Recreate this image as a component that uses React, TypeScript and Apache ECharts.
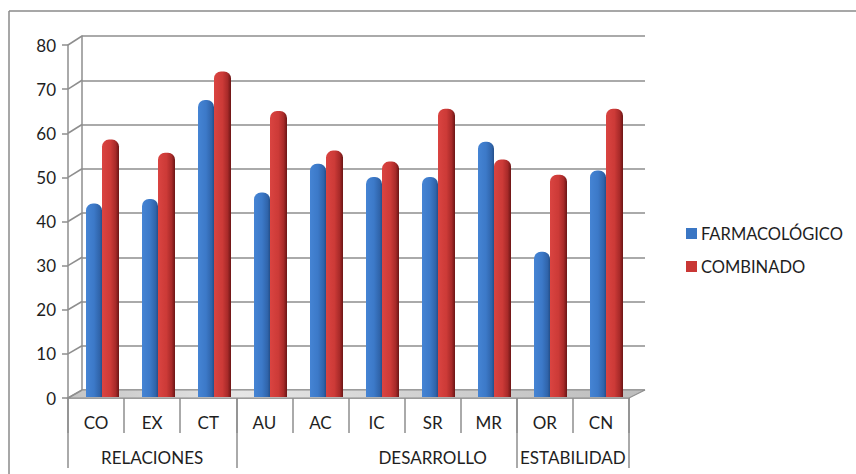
import React, { useEffect, useRef } from "react";
import * as echarts from "echarts";

const categories = ["CO", "EX", "CT", "AU", "AC", "IC", "SR", "MR", "OR", "CN"];
const groups = ["RELACIONES", "DESARROLLO", "ESTABILIDAD"];
const groupBounds = [0, 3, 8, 10];
const groupCenters = [1.5, 6.5, 9];
const farmacologico = [44, 45, 67.5, 46.5, 53, 50, 50, 58, 33, 51.5];
const combinado = [58.5, 55.5, 74, 65, 56, 53.5, 65.5, 54, 50.5, 65.5];
const yTicks = [0, 10, 20, 30, 40, 50, 60, 70, 80];

const FONT = "Lato, 'Open Sans', sans-serif";
const GRID_COLOR = "#8e8e8e";
const TEXT = "#1e1e1e";

export default function App() {
  const ref = useRef<HTMLDivElement>(null);
  useEffect(() => {
    document.body.style.margin = "0";
    const chart = echarts.init(ref.current!, null, { renderer: "svg" });
    const blue = new echarts.graphic.LinearGradient(0, 0, 1, 0, [
      { offset: 0, color: "#4584d4" },
      { offset: 0.5, color: "#3c79c8" },
      { offset: 0.85, color: "#3064aa" },
      { offset: 1, color: "#244f8a" },
    ]);
    const red = new echarts.graphic.LinearGradient(0, 0, 1, 0, [
      { offset: 0, color: "#da4441" },
      { offset: 0.5, color: "#cc3a37" },
      { offset: 0.8, color: "#a82a29" },
      { offset: 1, color: "#6b1515" },
    ]);
    const option: any = {
      animation: false,
      textStyle: { fontFamily: FONT },
      grid: [
        { left: 68, right: 227, top: 45, bottom: 76, outerBoundsMode: "none", containLabel: false },
        { left: 82, right: 211, top: 36, bottom: 84, outerBoundsMode: "none", containLabel: false },
        { left: 74.5, right: 221.5, top: 45, bottom: 77, outerBoundsMode: "none", containLabel: false },
      ],
      legend: {
        orient: "vertical",
        left: 681,
        top: 220,
        itemGap: 16,
        itemWidth: 11,
        itemHeight: 11,
        itemStyle: { borderWidth: 0 },
        icon: "rect",
        textStyle: { fontSize: 16.5, color: TEXT, fontFamily: FONT, padding: [0, 0, 0, -1] },
        data: [
          { name: "FARMACOLÓGICO", itemStyle: { color: "#3a76c4" } },
          { name: "COMBINADO", itemStyle: { color: "#c93735" } },
        ],
      },
      xAxis: [
        {
          type: "category",
          gridIndex: 0,
          position: "bottom",
          data: categories,
          boundaryGap: true,
          axisLine: { show: true, lineStyle: { color: GRID_COLOR, width: 1.5 } },
          axisTick: { show: true, interval: 0, length: 35, lineStyle: { color: GRID_COLOR, width: 1.5 } },
          axisLabel: { interval: 0, margin: 16, fontSize: 17, color: TEXT },
          splitLine: { show: false },
        },
        {
          type: "value",
          gridIndex: 0,
          position: "bottom",
          min: 0,
          max: 10,
          axisLine: { show: false },
          axisTick: {
            show: true,
            customValues: groupBounds,
            length: 70,
            lineStyle: { color: GRID_COLOR, width: 1.5 },
          },
          axisLabel: {
            show: true,
            customValues: groupCenters,
            margin: 51,
            fontSize: 17,
            color: TEXT,
            formatter: (v: number) => groups[groupCenters.indexOf(v)] ?? "",
          },
          splitLine: { show: false },
        },
        {
          type: "value",
          gridIndex: 1,
          min: 0,
          max: 10,
          show: false,
        },
        {
          type: "category",
          gridIndex: 2,
          data: categories,
          show: false,
        },
      ],
      yAxis: [
        {
          type: "value",
          gridIndex: 0,
          min: 0,
          max: 80,
          interval: 10,
          axisLine: { show: true, lineStyle: { color: GRID_COLOR, width: 1.5 } },
          axisTick: { show: true, length: 6, lineStyle: { color: GRID_COLOR, width: 1.5 } },
          axisLabel: { margin: 12, fontSize: 17, color: TEXT },
          splitLine: { show: false },
        },
        {
          type: "value",
          gridIndex: 1,
          min: 0,
          max: 80,
          interval: 10,
          axisLine: { show: true, lineStyle: { color: GRID_COLOR, width: 1.5 } },
          axisTick: { show: false },
          axisLabel: { show: false },
          splitLine: { show: true, lineStyle: { color: GRID_COLOR, width: 1.5 } },
        },
        {
          type: "value",
          gridIndex: 2,
          min: 0,
          max: 80,
          show: false,
        },
      ],
      series: [
        {
          name: "FARMACOLÓGICO",
          type: "bar",
          xAxisIndex: 3,
          yAxisIndex: 2,
          data: farmacologico,
          barWidth: 16,
          barGap: "0%",
          itemStyle: { color: blue, borderRadius: [7, 7, 0, 0] },
          z: 3,
        },
        {
          name: "COMBINADO",
          type: "bar",
          xAxisIndex: 3,
          yAxisIndex: 2,
          data: combinado,
          barWidth: 17,
          barGap: "0%",
          itemStyle: { color: red, borderRadius: [7, 7, 0, 0] },
          z: 4,
        },
      ],
    };
    chart.setOption(option);

    const fx0 = chart.convertToPixel({ xAxisIndex: 1 }, 0) as number;
    const fx1 = chart.convertToPixel({ xAxisIndex: 1 }, 10) as number;
    const bx0 = chart.convertToPixel({ xAxisIndex: 2 }, 0) as number;
    const bx1 = chart.convertToPixel({ xAxisIndex: 2 }, 10) as number;
    const fy = (v: number) => chart.convertToPixel({ yAxisIndex: 0 }, v) as number;
    const by = (v: number) => chart.convertToPixel({ yAxisIndex: 1 }, v) as number;

    const diagonals = yTicks.map((v) => ({
      type: "line",
      z: 1,
      shape: { x1: fx0, y1: fy(v), x2: bx0, y2: by(v) },
      style: { stroke: GRID_COLOR, lineWidth: 1.5 },
    }));

    chart.setOption({
      graphic: [
        {
          type: "line",
          z: 0,
          shape: { x1: 9, y1: 11, x2: 856, y2: 11 },
          style: { stroke: "#8a8a8a", lineWidth: 1.5 },
        },
        {
          type: "line",
          z: 0,
          shape: { x1: 9, y1: 11, x2: 9, y2: 474 },
          style: { stroke: "#8a8a8a", lineWidth: 1.5 },
        },
        {
          type: "polygon",
          z: 1,
          shape: {
            points: [
              [fx0, fy(0)],
              [fx1, fy(0)],
              [bx1, by(0)],
              [bx0, by(0)],
            ],
          },
          style: {
            fill: new echarts.graphic.LinearGradient(0, 0, 1, 0, [
              { offset: 0, color: "#c4c4c4" },
              { offset: 0.3, color: "#e6e6e6" },
              { offset: 0.6, color: "#d2d2d2" },
              { offset: 1, color: "#bdbdbd" },
            ]),
            stroke: GRID_COLOR,
            lineWidth: 1.2,
          },
        },
        ...diagonals,
      ],
    });

    return () => chart.dispose();
  }, []);
  return (
    <div
      ref={ref}
      style={{ position: "absolute", left: 0, top: 0, width: 856, height: 474, background: "#fff" }}
    />
  );
}
